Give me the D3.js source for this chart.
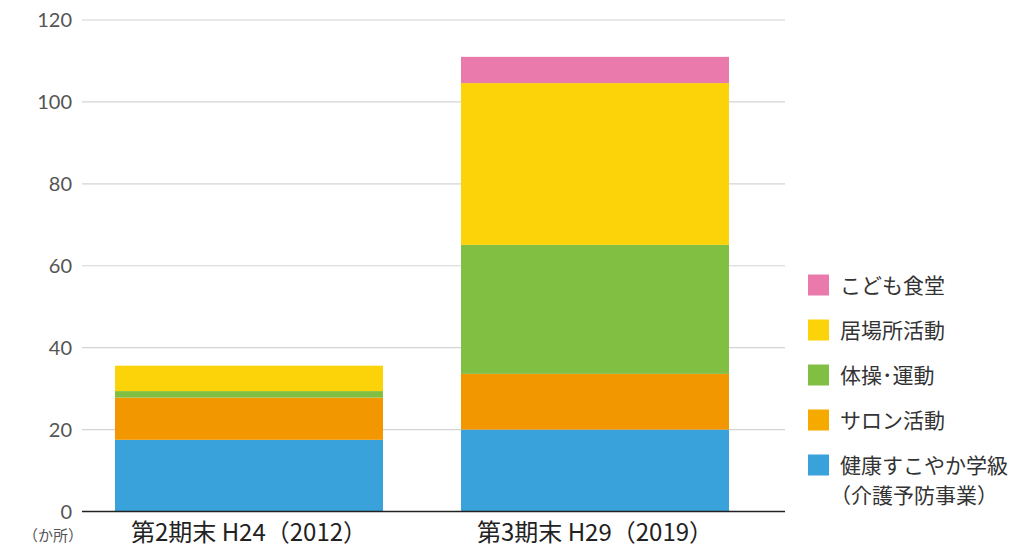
<!DOCTYPE html>
<html><head><meta charset="utf-8">
<script src="https://cdn.jsdelivr.net/npm/d3@7/dist/d3.min.js"></script>
<style>body{margin:0;background:#fff;}text{font-family:"Noto Sans CJK JP","Noto Sans",sans-serif;}</style>
</head><body><svg id="c" width="1024" height="547"></svg>
<script>
const categories = ["第2期末 H24（2012）", "第3期末 H29（2019）"];
const seriesNames = ["健康すこやか学級", "サロン活動", "体操･運動", "居場所活動", "こども食堂"];
const blueVals = [17.5, 20.0];
const orangeVals = [10.3, 13.6];
const greenVals = [1.6, 31.5];
const yellowVals = [6.2, 39.5];
const pinkVals = [0, 6.4];
const yTicks = [0, 20, 40, 60, 80, 100, 120];
const colors = ["#3aa2db", "#f39700", "#80bf42", "#fcd208", "#ea7aab"];
const legendColors = ["#ea7aab", "#fcd208", "#80bf42", "#f6aa00", "#3aa2db"];
const legendLabels = ["こども食堂", "居場所活動", "体操･運動", "サロン活動", "健康すこやか学級"];

const svg = d3.select("#c");
const x0 = 82, x1 = 785, yTop = 20, yBot = 511.5;
const y = d3.scaleLinear().domain([0,120]).range([yBot, yTop]);
const x = d3.scaleBand().domain(categories).range([115, 729]).paddingInner(78/346).paddingOuter(0);

// grid
svg.append("g").selectAll("line").data(yTicks.filter(d=>d>0)).join("line")
  .attr("x1", x0).attr("x2", x1).attr("y1", d=>y(d)).attr("y2", d=>y(d))
  .attr("stroke", "#d4d4d4").attr("stroke-width", 1.2);
svg.append("g").selectAll("text").data(yTicks).join("text")
  .attr("x", 72).attr("y", d=>y(d)).attr("dy", "0.36em").attr("text-anchor","end")
  .style("font-family", "Lato, sans-serif")
  .attr("font-size", 20).attr("fill", "#555").text(d=>d);

const rows = categories.map((c,i)=>({cat:c, vals:[blueVals[i], orangeVals[i], greenVals[i], yellowVals[i], pinkVals[i]]}));
const keys = [0,1,2,3,4];
const stack = d3.stack().keys(keys).value((d,k)=>d.vals[k]);
const layers = stack(rows);
svg.append("g").selectAll("g").data(layers).join("g").attr("fill", (d,i)=>colors[i])
  .selectAll("rect").data(d=>d).join("rect")
  .attr("x", d=>x(d.data.cat)).attr("width", x.bandwidth())
  .attr("y", d=>y(d[1])).attr("height", d=>Math.max(0, y(d[0])-y(d[1])));

svg.append("line").attr("x1", x0).attr("x2", x1).attr("y1", yBot).attr("y2", yBot)
  .attr("stroke", "#222").attr("stroke-width", 1.3);

svg.append("g").selectAll("text").data(categories).join("text")
  .attr("x", d=>x(d)+x.bandwidth()/2).attr("y", 541).attr("text-anchor","middle")
  .attr("font-size", 24).attr("fill", "#222").text(d=>d);
svg.append("text").attr("x", 53).attr("y", 541).attr("text-anchor","middle")
  .attr("font-size", 15).attr("fill", "#555").text("（か所）");

// legend
const lg = svg.append("g");
legendLabels.forEach((l,i)=>{
  const cy = 285 + i*45;
  lg.append("rect").attr("x", 808).attr("y", cy-10.5).attr("width", 21).attr("height", 21).attr("fill", legendColors[i]);
  lg.append("text").attr("x", 840).attr("y", cy).attr("dy","0.36em").attr("font-size", 21).attr("fill","#333").text(l);
});
lg.append("text").attr("x", 830).attr("y", 495).attr("dy","0.36em").attr("font-size", 21).attr("fill","#333").text("（介護予防事業）");
</script></body></html>
